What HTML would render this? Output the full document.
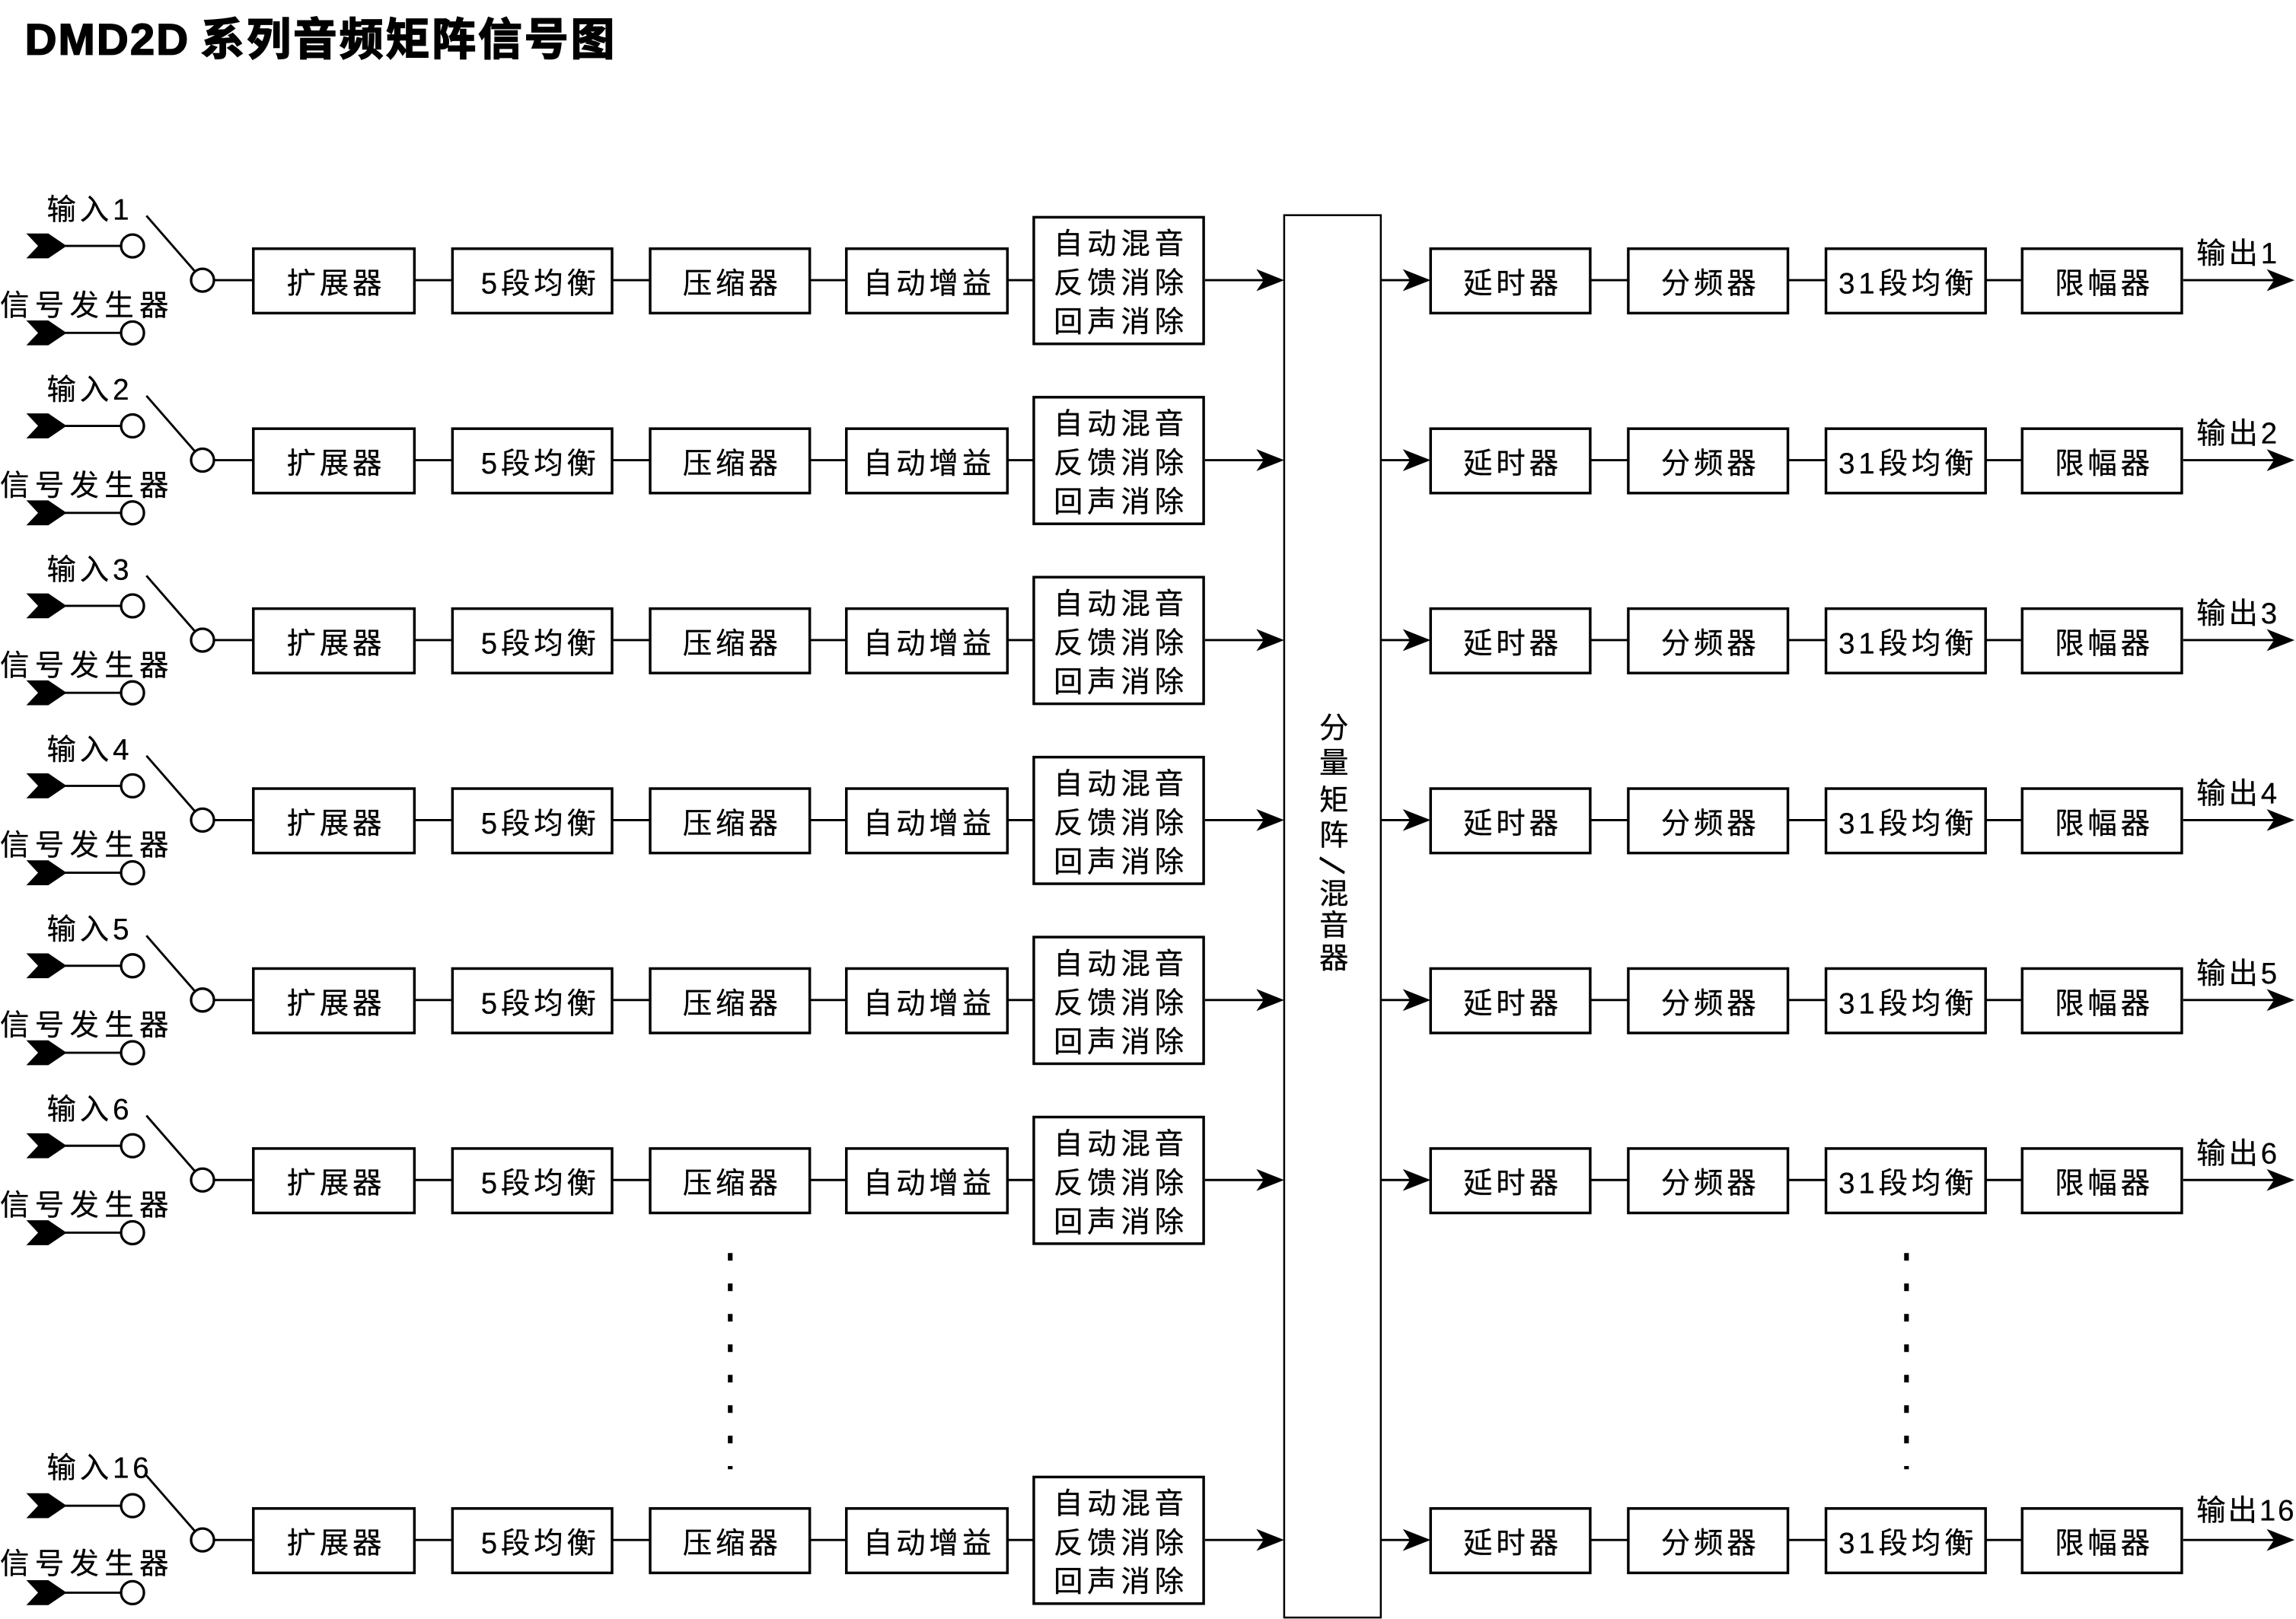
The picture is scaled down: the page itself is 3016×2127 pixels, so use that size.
<!DOCTYPE html>
<html>
<head>
<meta charset="utf-8">
<style>
html,body{margin:0;padding:0;background:#fff;}
svg{display:block;}
text{font-family:"Liberation Sans","Noto Sans CJK SC",sans-serif;fill:#000;stroke:#000;stroke-width:0.15px;}
.t{font-size:20px;}
.b{font-size:20px;text-anchor:middle;letter-spacing:2.5px;}
.tr{font-size:20px;text-anchor:middle;letter-spacing:3px;}
.ttl{font-size:30px;font-weight:bold;stroke-width:0.9px;}
</style>
</head>
<body>
<svg width="3016" height="2127" viewBox="0 0 1568 1106" preserveAspectRatio="none" xmlns="http://www.w3.org/2000/svg">
<rect x="0" y="0" width="1568" height="1106" fill="#fff"/>
<defs>
<g id="shapes">
  <polygon points="18,159.5 33,159.5 45.5,168 33,176.5 18,176.5 26,168" fill="#000"/>
  <line x1="44" y1="168" x2="82.7" y2="168" stroke="#000" stroke-width="1.5"/>
  <circle cx="90.5" cy="168" r="7.8" fill="#fff" stroke="#000" stroke-width="1.7"/>
  <polygon points="18,218.9 33,218.9 45.5,227.4 33,235.9 18,235.9 26,227.4" fill="#000"/>
  <line x1="44" y1="227.4" x2="82.7" y2="227.4" stroke="#000" stroke-width="1.5"/>
  <circle cx="90.5" cy="227.4" r="7.8" fill="#fff" stroke="#000" stroke-width="1.7"/>
  <line x1="100" y1="147.4" x2="133.2" y2="185.5" stroke="#000" stroke-width="1.5"/>
  <circle cx="138.3" cy="191.4" r="7.8" fill="#fff" stroke="#000" stroke-width="1.7"/>
  <line x1="146.1" y1="191.4" x2="173" y2="191.4" stroke="#000" stroke-width="1.5"/>
  <g fill="#fff" stroke="#000" stroke-width="1.8">
    <rect x="173" y="169.9" width="110" height="44"/>
    <rect x="309" y="169.9" width="109" height="44"/>
    <rect x="444" y="169.9" width="109" height="44"/>
    <rect x="578" y="169.9" width="110" height="44"/>
    <rect x="706" y="148.4" width="116" height="86.5"/>
    <rect x="977" y="169.9" width="109" height="44"/>
    <rect x="1112" y="169.9" width="109" height="44"/>
    <rect x="1247" y="169.9" width="109" height="44"/>
    <rect x="1381" y="169.9" width="109" height="44"/>
  </g>
  <g stroke="#000" stroke-width="1.5">
    <line x1="283" y1="191.4" x2="309" y2="191.4"/>
    <line x1="418" y1="191.4" x2="444" y2="191.4"/>
    <line x1="553" y1="191.4" x2="578" y2="191.4"/>
    <line x1="688" y1="191.4" x2="706" y2="191.4"/>
    <line x1="823" y1="191.4" x2="864" y2="191.4"/>
    <line x1="943" y1="191.4" x2="964" y2="191.4"/>
    <line x1="1086" y1="191.4" x2="1112" y2="191.4"/>
    <line x1="1221" y1="191.4" x2="1247" y2="191.4"/>
    <line x1="1356" y1="191.4" x2="1381" y2="191.4"/>
    <line x1="1491" y1="191.4" x2="1554" y2="191.4"/>
  </g>
  <polygon points="877,191.4 858,183.9 863,191.4 858,198.9" fill="#000"/>
  <polygon points="977,191.4 958,183.9 963,191.4 958,198.9" fill="#000"/>
  <polygon points="1567,191.4 1548,183.9 1553,191.4 1548,198.9" fill="#000"/>
</g>
</defs>

<!-- Title -->
<text class="ttl" x="17" y="37.3" letter-spacing="1.2">DMD2D</text>
<text class="ttl" x="137" y="37.5" letter-spacing="1.6">系列音频矩阵信号图</text>

<!-- Matrix box -->
<rect x="877" y="147" width="66" height="958" fill="none" stroke="#000" stroke-width="1.3"/>
<g style="font-size:20px;text-anchor:middle;">
  <text x="911" y="504">分</text>
  <text x="911" y="528">量</text>
  <text x="911" y="553.5">矩</text>
  <text x="911" y="577.5">阵</text>
  <text transform="translate(911,591.5) rotate(106)" x="0" y="10.6" style="font-size:26px;stroke-width:0;">/</text>
  <text x="911" y="617.5">混</text>
  <text x="911" y="639">音</text>
  <text x="911" y="661.5">器</text>
</g>

<!-- Row 1 -->
<g transform="translate(0,0)">
  <use href="#shapes"/>
  <text class="t" x="32" y="150" letter-spacing="2.5">输入1</text>
  <text class="t" x="0" y="215.5" letter-spacing="3.8">信号发生器</text>
  <text class="b" x="229.5" y="200.5">扩展器</text>
  <text class="b" x="369" y="200.5">5段均衡</text>
  <text class="b" x="500" y="200.5">压缩器</text>
  <text class="b" x="634.5" y="200.5">自动增益</text>
  <text class="tr" x="765.5" y="173.5">自动混音</text>
  <text class="tr" x="765.5" y="200.3">反馈消除</text>
  <text class="tr" x="765.5" y="226.8">回声消除</text>
  <text class="b" x="1033" y="200.5">延时器</text>
  <text class="b" x="1168" y="200.5">分频器</text>
  <text class="b" x="1303" y="200.5">31段均衡</text>
  <text class="b" x="1437" y="200.5">限幅器</text>
  <text class="t" x="1500" y="180" letter-spacing="2">输出1</text>
</g>

<!-- Row 2 -->
<g transform="translate(0,122.94)">
  <use href="#shapes"/>
  <text class="t" x="32" y="150" letter-spacing="2.5">输入2</text>
  <text class="t" x="0" y="215.5" letter-spacing="3.8">信号发生器</text>
  <text class="b" x="229.5" y="200.5">扩展器</text>
  <text class="b" x="369" y="200.5">5段均衡</text>
  <text class="b" x="500" y="200.5">压缩器</text>
  <text class="b" x="634.5" y="200.5">自动增益</text>
  <text class="tr" x="765.5" y="173.5">自动混音</text>
  <text class="tr" x="765.5" y="200.3">反馈消除</text>
  <text class="tr" x="765.5" y="226.8">回声消除</text>
  <text class="b" x="1033" y="200.5">延时器</text>
  <text class="b" x="1168" y="200.5">分频器</text>
  <text class="b" x="1303" y="200.5">31段均衡</text>
  <text class="b" x="1437" y="200.5">限幅器</text>
  <text class="t" x="1500" y="180" letter-spacing="2">输出2</text>
</g>

<!-- Row 3 -->
<g transform="translate(0,245.88)">
  <use href="#shapes"/>
  <text class="t" x="32" y="150" letter-spacing="2.5">输入3</text>
  <text class="t" x="0" y="215.5" letter-spacing="3.8">信号发生器</text>
  <text class="b" x="229.5" y="200.5">扩展器</text>
  <text class="b" x="369" y="200.5">5段均衡</text>
  <text class="b" x="500" y="200.5">压缩器</text>
  <text class="b" x="634.5" y="200.5">自动增益</text>
  <text class="tr" x="765.5" y="173.5">自动混音</text>
  <text class="tr" x="765.5" y="200.3">反馈消除</text>
  <text class="tr" x="765.5" y="226.8">回声消除</text>
  <text class="b" x="1033" y="200.5">延时器</text>
  <text class="b" x="1168" y="200.5">分频器</text>
  <text class="b" x="1303" y="200.5">31段均衡</text>
  <text class="b" x="1437" y="200.5">限幅器</text>
  <text class="t" x="1500" y="180" letter-spacing="2">输出3</text>
</g>

<!-- Row 4 -->
<g transform="translate(0,368.82)">
  <use href="#shapes"/>
  <text class="t" x="32" y="150" letter-spacing="2.5">输入4</text>
  <text class="t" x="0" y="215.5" letter-spacing="3.8">信号发生器</text>
  <text class="b" x="229.5" y="200.5">扩展器</text>
  <text class="b" x="369" y="200.5">5段均衡</text>
  <text class="b" x="500" y="200.5">压缩器</text>
  <text class="b" x="634.5" y="200.5">自动增益</text>
  <text class="tr" x="765.5" y="173.5">自动混音</text>
  <text class="tr" x="765.5" y="200.3">反馈消除</text>
  <text class="tr" x="765.5" y="226.8">回声消除</text>
  <text class="b" x="1033" y="200.5">延时器</text>
  <text class="b" x="1168" y="200.5">分频器</text>
  <text class="b" x="1303" y="200.5">31段均衡</text>
  <text class="b" x="1437" y="200.5">限幅器</text>
  <text class="t" x="1500" y="180" letter-spacing="2">输出4</text>
</g>

<!-- Row 5 -->
<g transform="translate(0,491.76)">
  <use href="#shapes"/>
  <text class="t" x="32" y="150" letter-spacing="2.5">输入5</text>
  <text class="t" x="0" y="215.5" letter-spacing="3.8">信号发生器</text>
  <text class="b" x="229.5" y="200.5">扩展器</text>
  <text class="b" x="369" y="200.5">5段均衡</text>
  <text class="b" x="500" y="200.5">压缩器</text>
  <text class="b" x="634.5" y="200.5">自动增益</text>
  <text class="tr" x="765.5" y="173.5">自动混音</text>
  <text class="tr" x="765.5" y="200.3">反馈消除</text>
  <text class="tr" x="765.5" y="226.8">回声消除</text>
  <text class="b" x="1033" y="200.5">延时器</text>
  <text class="b" x="1168" y="200.5">分频器</text>
  <text class="b" x="1303" y="200.5">31段均衡</text>
  <text class="b" x="1437" y="200.5">限幅器</text>
  <text class="t" x="1500" y="180" letter-spacing="2">输出5</text>
</g>

<!-- Row 6 -->
<g transform="translate(0,614.7)">
  <use href="#shapes"/>
  <text class="t" x="32" y="150" letter-spacing="2.5">输入6</text>
  <text class="t" x="0" y="215.5" letter-spacing="3.8">信号发生器</text>
  <text class="b" x="229.5" y="200.5">扩展器</text>
  <text class="b" x="369" y="200.5">5段均衡</text>
  <text class="b" x="500" y="200.5">压缩器</text>
  <text class="b" x="634.5" y="200.5">自动增益</text>
  <text class="tr" x="765.5" y="173.5">自动混音</text>
  <text class="tr" x="765.5" y="200.3">反馈消除</text>
  <text class="tr" x="765.5" y="226.8">回声消除</text>
  <text class="b" x="1033" y="200.5">延时器</text>
  <text class="b" x="1168" y="200.5">分频器</text>
  <text class="b" x="1303" y="200.5">31段均衡</text>
  <text class="b" x="1437" y="200.5">限幅器</text>
  <text class="t" x="1500" y="180" letter-spacing="2">输出6</text>
</g>

<!-- Row 16 -->
<g transform="translate(0,860.6)">
  <use href="#shapes"/>
  <text class="t" x="32" y="149" letter-spacing="2.5">输入16</text>
  <text class="t" x="0" y="214.5" letter-spacing="3.8">信号发生器</text>
  <text class="b" x="229.5" y="200.5">扩展器</text>
  <text class="b" x="369" y="200.5">5段均衡</text>
  <text class="b" x="500" y="200.5">压缩器</text>
  <text class="b" x="634.5" y="200.5">自动增益</text>
  <text class="tr" x="765.5" y="173.5">自动混音</text>
  <text class="tr" x="765.5" y="200.3">反馈消除</text>
  <text class="tr" x="765.5" y="226.8">回声消除</text>
  <text class="b" x="1033" y="200.5">延时器</text>
  <text class="b" x="1168" y="200.5">分频器</text>
  <text class="b" x="1303" y="200.5">31段均衡</text>
  <text class="b" x="1437" y="200.5">限幅器</text>
  <text class="t" x="1500" y="178" letter-spacing="1.5">输出16</text>
</g>

<!-- Dotted continuation lines -->
<g fill="#000">
  <rect x="497.1" y="856" width="3.2" height="5.2"/>
  <rect x="497.1" y="876.8" width="3.2" height="5.2"/>
  <rect x="497.1" y="897.6" width="3.2" height="5.2"/>
  <rect x="497.1" y="918.4" width="3.2" height="5.2"/>
  <rect x="497.1" y="939.2" width="3.2" height="5.2"/>
  <rect x="497.1" y="960" width="3.2" height="5.2"/>
  <rect x="497.1" y="980.8" width="3.2" height="5.2"/>
  <rect x="497.1" y="1001.5" width="3.2" height="2.2"/>

  <rect x="1300.4" y="856" width="3.2" height="5.2"/>
  <rect x="1300.4" y="876.8" width="3.2" height="5.2"/>
  <rect x="1300.4" y="897.6" width="3.2" height="5.2"/>
  <rect x="1300.4" y="918.4" width="3.2" height="5.2"/>
  <rect x="1300.4" y="939.2" width="3.2" height="5.2"/>
  <rect x="1300.4" y="960" width="3.2" height="5.2"/>
  <rect x="1300.4" y="980.8" width="3.2" height="5.2"/>
  <rect x="1300.4" y="1001.5" width="3.2" height="2.2"/>
</g>
</svg>
</body>
</html>
